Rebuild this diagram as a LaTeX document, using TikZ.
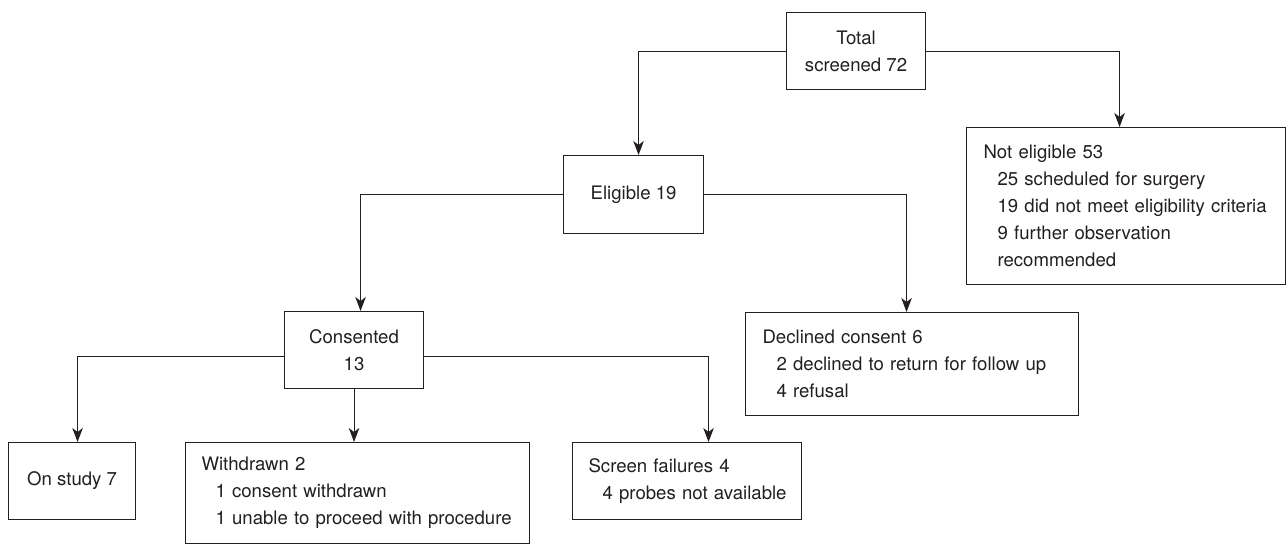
\documentclass[tikz,border=0pt]{standalone}
\usepackage{fontspec}
\setmainfont{TeX Gyre Heros}
\usetikzlibrary{arrows.meta}
\definecolor{ink}{HTML}{231F20}
\begin{document}
\begin{tikzpicture}[x=1pt,y=-1pt,
  box/.style={draw=ink, line width=1.1pt, text=ink, inner sep=0pt, font=\fontsize{18.6}{27}\selectfont, anchor=north west},
  cbox/.style={box, align=center},
  lbox/.style={box, align=left, inner xsep=17pt},
  conn/.style={draw=ink, line width=1.1pt, -{Stealth[length=14pt,width=10.5pt,inset=4pt]}}]

\useasboundingbox (0,0) rectangle (1286,544);

\node[cbox, minimum width=139pt, minimum height=77pt] (total) at (786,12) {Total\\screened 72};
\node[cbox, minimum width=140pt, minimum height=78pt] (elig) at (563,155) {Eligible 19};
\node[lbox, text width=285pt, minimum height=157pt] (nelig) at (966,127)
  {Not eligible 53\\\hspace*{14pt}25 scheduled for surgery\\\hspace*{14pt}\mbox{19 did not meet eligibility criteria}\\\hspace*{14pt}9 further observation\\\hspace*{14pt}recommended};
\node[cbox, minimum width=139pt, minimum height=77pt] (cons) at (284,311) {Consented\\13};
\node[lbox, text width=299pt, minimum height=103pt] (decl) at (745,312)
  {Declined consent 6\\\hspace*{14pt}\mbox{2 declined to return for follow up}\\\hspace*{14pt}4 refusal};
\node[cbox, minimum width=127pt, minimum height=77pt] (study) at (8,442) {On study 7};
\node[lbox, inner xsep=16pt, text width=312pt, minimum height=101pt] (wd) at (185,442)
  {Withdrawn 2\\\hspace*{14pt}1 consent withdrawn\\\hspace*{14pt}\mbox{1 unable to proceed with procedure}};
\node[lbox, inner xsep=16pt, text width=197pt, minimum height=77pt] (scr) at (572,442)
  {Screen failures 4\\\hspace*{14pt}\mbox{4 probes not available}};

\draw[conn] (total.west) -| ([xshift=5pt]elig.north);
\draw[conn] (total.east) -| ([xshift=-6.5pt]nelig.north);
\draw[conn] (elig.west) -| ([xshift=6.5pt]cons.north);
\draw[conn] (elig.east) -| ([xshift=-5.5pt]decl.north);
\draw[conn] ([yshift=-6.5pt]cons.west) -| ([xshift=5.5pt]study.north);
\draw[conn] (cons.south) -- (cons.south |- wd.north);
\draw[conn] ([yshift=-6.5pt]cons.east) -| ([xshift=21.5pt]scr.north);
\end{tikzpicture}
\end{document}
